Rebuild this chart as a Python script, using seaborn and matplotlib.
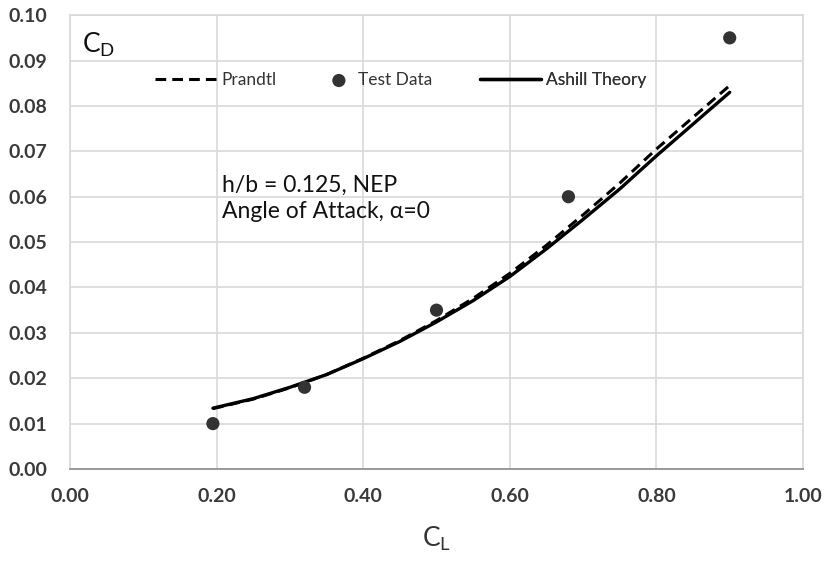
import matplotlib
matplotlib.use("Agg")
import matplotlib.pyplot as plt
import seaborn as sns
import pandas as pd
import numpy as np
from matplotlib.legend_handler import HandlerPathCollection

# ---- data ----
cl_curve = [0.195, 0.25, 0.30, 0.35, 0.40, 0.45, 0.50, 0.55, 0.60, 0.65, 0.70, 0.75, 0.80, 0.85, 0.90]
cd_ashill = [0.0134, 0.0155, 0.0180, 0.0208, 0.0243, 0.0281, 0.0324, 0.0371, 0.0424, 0.0485, 0.0550, 0.0617, 0.0690, 0.0760, 0.0830]
cd_prandtl = [0.0133, 0.0154, 0.0179, 0.0208, 0.0244, 0.0283, 0.0327, 0.0376, 0.0431, 0.0493, 0.0560, 0.0630, 0.0705, 0.0775, 0.0845]
cl_test = [0.195, 0.32, 0.50, 0.68, 0.90]
cd_test = [0.010, 0.018, 0.035, 0.060, 0.095]
x_ticks = [0.0, 0.2, 0.4, 0.6, 0.8, 1.0]
y_ticks = [0.00, 0.01, 0.02, 0.03, 0.04, 0.05, 0.06, 0.07, 0.08, 0.09, 0.10]

sns.set_theme(style="white")
plt.rcParams['font.family'] = ['Lato', 'DejaVu Sans']

df_p = pd.DataFrame({"CL": cl_curve, "CD": cd_prandtl})
df_a = pd.DataFrame({"CL": cl_curve, "CD": cd_ashill})
df_t = pd.DataFrame({"CL": cl_test, "CD": cd_test})

fig = plt.figure(figsize=(8.27, 5.62), dpi=100)
ax = fig.add_axes([0.0846, 0.1655, 0.8864, 0.8075])

sns.lineplot(data=df_p, x="CL", y="CD", ax=ax, color="black", lw=2.2,
             linestyle=(0, (3.5, 2)), label="Prandtl", zorder=3)
sns.scatterplot(data=df_t, x="CL", y="CD", ax=ax, color="#333333", s=90,
                edgecolor="none", label="Test Data", zorder=4)
sns.lineplot(data=df_a, x="CL", y="CD", ax=ax, color="black", lw=2.4,
             label="Ashill Theory", zorder=3)

ax.set_xlim(0, 1.0)
ax.set_ylim(0, 0.10)
ax.set_xticks(x_ticks)
ax.set_yticks(y_ticks)
ax.set_xticklabels([f"{v:.2f}" for v in x_ticks])
ax.set_yticklabels([f"{v:.2f}" for v in y_ticks])
ax.tick_params(axis='both', length=0, labelsize=14, colors="#3a3a3a")
ax.tick_params(axis='x', pad=14)
ax.tick_params(axis='y', pad=16)
for lab in ax.get_xticklabels() + ax.get_yticklabels():
    lab.set_fontweight("bold")

ax.grid(True, color="#d9d9d9", lw=1.2)
ax.set_axisbelow(True)
for s in ["top", "right", "left"]:
    ax.spines[s].set_color("#d9d9d9")
    ax.spines[s].set_linewidth(1.2)
ax.spines["bottom"].set_color("#9a9a9a")
ax.spines["bottom"].set_linewidth(1.4)

ax.set_xlabel(r"$\mathregular{C_L}$", fontsize=19, color="#333333", labelpad=14)
ax.set_ylabel("")

ax.text(0.016, 0.935, r"$\mathregular{C_D}$", transform=ax.transAxes,
        fontsize=19, color="#111111", va="center", ha="left")
ax.text(0.207, 0.0597, "h/b = 0.125, NEP\nAngle of Attack, α=0",
        fontsize=16.5, color="#111111", va="center", ha="left", linespacing=1.3,
        transform=ax.transData)


class RightDotHandler(HandlerPathCollection):
    def get_xdata(self, legend, xdescent, ydescent, width, height, fontsize):
        x = [0.77 * width - xdescent]
        return x, x


handles, labels = ax.get_legend_handles_labels()
positions = {"Prandtl": 0.116, "Test Data": 0.303, "Ashill Theory": 0.559}
for h, l in zip(handles, labels):
    leg = ax.legend([h], [l], frameon=False, loc="center left",
                    bbox_to_anchor=(positions[l], 0.857), borderpad=0,
                    borderaxespad=0, fontsize=12.5, handlelength=3.5,
                    handletextpad=0.3, labelcolor="#333333",
                    handler_map={type(handles[1]): RightDotHandler()})
    ax.add_artist(leg)

fig.savefig("out.png", dpi=100)
